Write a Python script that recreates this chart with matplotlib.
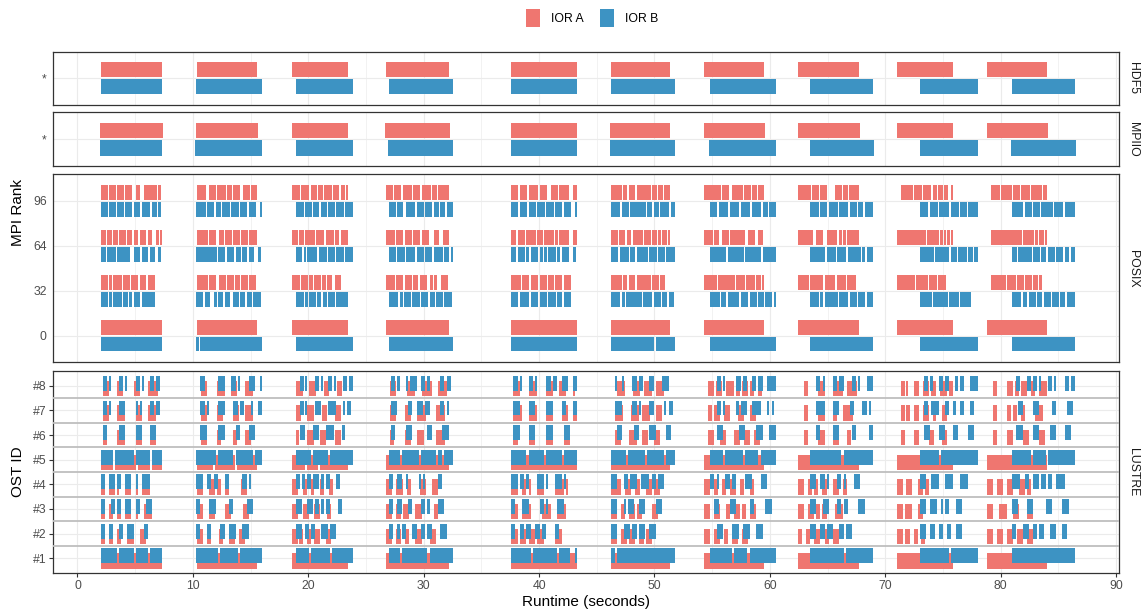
import matplotlib
matplotlib.use("Agg")
import matplotlib.pyplot as plt
from matplotlib.patches import Rectangle

plt.rcParams['font.family'] = ['Liberation Sans', 'DejaVu Sans']

# ---------------- data ----------------
colors = {"IOR A": "#EF7670", "IOR B": "#3D93C3"}
x_ticks = [0, 10, 20, 30, 40, 50, 60, 70, 80, 90]
posix_ranks = [0, 32, 64, 96]
ost_labels = ["#1", "#2", "#3", "#4", "#5", "#6", "#7", "#8"]
facets = ["HDF5", "MPIIO", "POSIX", "LUSTRE"]

# phase start / end times (seconds) for each of the 10 I/O phases
hdf5_a_start = [2.04, 10.36, 18.59, 26.73, 37.56, 46.23, 54.29, 62.44, 71.02, 78.81]
hdf5_a_end = [7.32, 15.55, 23.44, 32.19, 43.28, 51.34, 59.49, 67.73, 75.87, 84.01]
hdf5_b_start = [2.04, 10.27, 18.93, 26.99, 37.56, 46.23, 54.81, 63.47, 73.00, 80.98]
hdf5_b_end = [7.32, 15.99, 23.87, 32.54, 43.28, 51.78, 60.53, 68.93, 78.00, 86.44]

mpiio_a_start = [1.95, 10.27, 18.59, 26.65, 37.56, 46.15, 54.29, 62.44, 71.02, 78.81]
mpiio_a_end = [7.41, 15.64, 23.44, 32.28, 43.28, 51.34, 59.58, 67.81, 75.87, 84.10]
mpiio_b_start = [1.95, 10.18, 18.93, 26.90, 37.56, 46.15, 54.72, 63.47, 73.00, 80.89]
mpiio_b_end = [7.32, 15.99, 23.87, 32.54, 43.28, 51.74, 60.53, 69.02, 78.00, 86.50]

# activity patterns inside each phase ('#' busy, '.' idle)
posix_0_a = [
    "##############################",
    "##############################",
    "##############################",
    "##############################",
    "##############################",
    "##############################",
    "##############################",
    "##############################",
    "##############################",
    "##############################",
]
posix_0_b = [
    "##############################",
    "#.############################",
    "##############################",
    "##############################",
    "##############################",
    "####################.#########",
    "##############################",
    "##############################",
    "##############################",
    "##############################",
]
posix_32_a = [
    "###.#.####.###.###.###.###....",
    "#####.###..###.###.##.###.###.",
    "####.###.##.###.##.##..###....",
    "####.###.###.##.###..#.#..###.",
    "####.###.###.###.##.###.###...",
    "#####.##.###.#######.###.##...",
    "######.########.####.####.##.#",
    "#####.######.#####.####.####..",
    "#########.######.####.####....",
    "..#######.####.###.###.##.#...",
]
posix_32_b = [
    "###.#.####.##.#.###.######....",
    "###.##..#.##.##..##.##.##.###.",
    "####.#.###.##.##.###.######...",
    "####.#.###.###.###.##.###.###.",
    "###.####.###.###.###.##.###...",
    "####.#.#######.####.###.##.##.",
    "####.##.#####.###.###.##.###.#",
    "####.#.######.####.###.###.###",
    "######.#######.#####.#####....",
    "####.##.###.##.###.###.##.####",
]
posix_64_a = [
    "##.##.##.###.##.##.###.##..#.#",
    "#####.###..##.###.###.###.####",
    "###.##.#####.####.####.##.####",
    "####.###.###.###.###...##..###",
    "##.###.####.##.####.#.####..##",
    "###.###.##.#####.###.##.#.##.#",
    "####.##..###.#######..###..##.",
    "#######..###..#####.#.#.######",
    "###############.######.#.#.#.#",
    "..###############.#####.#.##.#",
]
posix_64_b = [
    "##.####.######..###.###.##..#.",
    "#########.###.###.##.##.##..#.",
    "###.#.#####.####.###.####.####",
    "###.###.####.###.###.####.##.#",
    "##.###.#.###.#.#.###.#.###..#.",
    "###.####.##.#####.###.###.####",
    "#######.#######.#######.######",
    "#######.####.####.######.#.###",
    "#######.#######.###.####.##.##",
    "##.######.###.##.###.###.##.##",
]
posix_96_a = [
    "###.###.###.###..##..######.#.",
    "####..###.####.##.###..###.###",
    "####.####.###.##.####.###.##.#",
    "###.###.####.###.####.##.#####",
    "###.###.####.###..###.####..##",
    "#####.##.###.#######.##.##.###",
    "########.###..#####.###.##.###",
    "######.###.###....###.##.#####",
    "..######.####.####.##.##.##..#",
    "..####.#####.###.####.#####.##",
]
posix_96_b = [
    "###.###.###.###.###.####.##.#.",
    "####.###.##.###.###.###.###..#",
    "####.###.###.###.###.####.####",
    "###.##..####.###.###.##.##.###",
    "###.###.###.###.###.###.###..#",
    "####.###.#######.##.##.####.##",
    "###.####.####.####.####.##.###",
    "####.###.####.####.###.##.####",
    "####.####.#####.####.###.#####",
    "#####.###.###.#####.####.#####",
]

lustre_1_a = [
    "##############################",
    "##############################",
    "##############################",
    "##############################",
    "##############################",
    "##############################",
    "##############################",
    "##############################",
    "##############################",
    "##############################",
]
lustre_1_b = [
    "########.#######.######.######",
    "##########.########.##########",
    "#######.##########.###########",
    "#####.############.###########",
    "#########.###########.#####..#",
    "##.###########################",
    "##########.######.############",
    "################.#############",
    "###############.##############",
    "##############################",
]
lustre_2_a = [
    "##..##..##...###...###........",
    "###..##....##...###..###......",
    "###.##..##..###...###.........",
    "###..##..##...###....###......",
    "###.###.###.###.....###.......",
    "###..###.###..###.###.........",
    "###..###..##..###..###........",
    "##..##..###..##..###..........",
    "###.###..##..##...............",
    "###..###..###..###..###.......",
]
lustre_2_b = [
    "##..##...##..###.....##.......",
    "##...##....##..###...###......",
    "###..##.##...####.###.........",
    "##..#.##...##..##.##....###...",
    "##..##.##..##.##....##........",
    "###...###.##.###..###.........",
    "...###....###..###...###......",
    "###..##.###...##.###..........",
    "###..###..##..##...###........",
    "##...###..##.##...###...##....",
]
lustre_3_a = [
    "##..##..##..###..#...####.....",
    "###...###.....###......###....",
    "###...###...###....##.........",
    "###..##.###...###......##.....",
    "###..####.....####...####.....",
    "###..##..###.###.....###......",
    "###..###...##..###.##..###....",
    "###..###.##.##....####........",
    "###.####...###................",
    "###...####...###....###.......",
]
lustre_3_b = [
    "##...##.##..###..##...###.....",
    "##....###......##......###....",
    "###...###.##.##.##....##......",
    "##..##...##....##.#....###....",
    "##...###.....##.#....###......",
    "###...#.###..###.....###......",
    "..##.....###......##.....###..",
    "###...###....##.##.....###....",
    "###..####..#.##....###........",
    "###....###......###.....###...",
]
lustre_4_a = [
    "##..###.#...###..#..####......",
    "###...###.##..##......###.....",
    "###...##..##...##...##........",
    "###..###..##....###...###.....",
    "###..##.#...###.....####.#....",
    "#####..###..###...###.###.....",
    "###..##..##..###..##...##.....",
    "###..##.##..##...###..##......",
    "###..###...###.##.............",
    "###..###..###...###.##........",
]
lustre_4_b = [
    "##..###.##..###..#..####......",
    "###..##.##...##......##.#.....",
    "##.##.##.###.##.##...##.......",
    "##..##..#.....#.#......##.....",
    "###.##.#....###.#...###.#.....",
    "###...##.###..####.##.###.....",
    "##.#...##.##....###....###....",
    "###..##.#....##.#....###......",
    "###...####...####....####.....",
    "####..##..###.##.##..####.....",
]
lustre_5_a = [
    "######.##########.######.#####",
    "########.##########.##########",
    "#######.######.###############",
    "##############################",
    "##############################",
    "##############################",
    "##############################",
    "##############################",
    "##############################",
    "##############################",
]
lustre_5_b = [
    "######.#########.#######.#####",
    "#########.#######.########.###",
    "########.########.############",
    "#####.########.#######.##.####",
    "#######.#######.#######.######",
    "#######.########.########.####",
    "######.########.######.#######",
    "###############.##############",
    "##########.###################",
    "#########.######.#############",
]
lustre_6_a = [
    ".##.....####.....###....###...",
    "..###.....##......##....###...",
    "..##....####...###.....###....",
    "..##.....###...###......####..",
    ".##.....###.....###.....###...",
    "..###....####...###...###.....",
    "..###...###....###..###..###..",
    "...##.....###....###....##....",
    "..##.....###.....###....###...",
    "...##.....###.....###.....###.",
]
lustre_6_b = [
    ".##......###.....###....###...",
    "..###.....###.....##....###...",
    "..###....###....####....##....",
    ".##.....###.......##.....###..",
    ".###....###.....###.....###...",
    "...##......##.....###.....##..",
    "...###.......###.....###...###",
    "...##......###......##......##",
    "..###.....###....###.....###..",
    "..###.....###.....###....###..",
]
lustre_7_a = [
    ".###....####.....###...####...",
    "..###.....###.....###...####..",
    "..###...####....###....###....",
    "..###....###...####.....####..",
    ".####...####....###....###..##",
    "..####....####..####...###....",
    "..##.###..###....###...###....",
    "...##.....###....##...#####...",
    "..##.##..###..###..##...###...",
    "...##.....##.##..##.....####..",
]
lustre_7_b = [
    ".##.#....###.....#.#....##.##.",
    "..##.#....###....##.##...#..##",
    "..##.#....###....####....#.##.",
    ".###.....##..###.##.....##.#..",
    ".###....###.....###....##...##",
    "..###.....##.#....##.....#.##.",
    "...##.#.....#.###..####...#.#.",
    "...####....###.....##....##.#.",
    "..##..####...##..##..##...##..",
    "...##.....###......##.....###.",
]
lustre_8_a = [
    ".###....###.....###....#####..",
    "..###.....####...###....####..",
    "..####...####....###....###...",
    "..###.....####...#####...####.",
    ".###....####....###...###...#.",
    "...####....####..####..####...",
    "..###.###..####.##.###.##..##.",
    "...##.....###....#####..#####.",
    "..##.#...###..###.###..####.##",
    "...##.....###.##.###..##..####",
]
lustre_8_b = [
    ".##.#....##.#....##.#...##.##.",
    "..##......###...##.#....###..#",
    "..##.#....##.#...##.#....##.##",
    ".##.#...#.###..##.#.....##.##.",
    ".##.#...##.#....##.##..###..##",
    "..#..#....##.##...##....###...",
    "...##.#.....##.##..##.##..####",
    "...##.#....##.##....##.#...###",
    "..##.##...##.##...##.##...####",
    "..##...##.##.#...##.#....##.##",
]

posix_a = {0: posix_0_a, 32: posix_32_a, 64: posix_64_a, 96: posix_96_a}
posix_b = {0: posix_0_b, 32: posix_32_b, 64: posix_64_b, 96: posix_96_b}
lustre_a = [lustre_1_a, lustre_2_a, lustre_3_a, lustre_4_a,
            lustre_5_a, lustre_6_a, lustre_7_a, lustre_8_a]
lustre_b = [lustre_1_b, lustre_2_b, lustre_3_b, lustre_4_b,
            lustre_5_b, lustre_6_b, lustre_7_b, lustre_8_b]


def runs(patterns, starts, ends, grow=0.0):
    """Convert per-phase busy patterns into (start, width) intervals.
    `grow` widens each run (in slots) into the following idle slot."""
    out = []
    for pat, t0, t1 in zip(patterns, starts, ends):
        w = (t1 - t0) / len(pat)
        i = 0
        while i < len(pat):
            if pat[i] == "#":
                j = i
                while j < len(pat) and pat[j] == "#":
                    j += 1
                extra = grow * w if j < len(pat) else 0.0
                out.append((t0 + i * w, (j - i) * w + extra))
                i = j
            else:
                i += 1
    return out


# ---------------- figure ----------------
W, H = 1148, 612
fig = plt.figure(figsize=(W / 100, H / 100), dpi=100)


def frect(l, t, r, b):
    return [l / W, 1 - b / H, (r - l) / W, (b - t) / H]


ax_h = fig.add_axes(frect(53, 51.7, 1119, 105))
ax_m = fig.add_axes(frect(53, 112.3, 1119, 166.3))
ax_p = fig.add_axes(frect(53, 174.3, 1119, 362.3))
ax_l = fig.add_axes(frect(53, 371, 1119, 573))
axes = [ax_h, ax_m, ax_p, ax_l]

GRID = "#EBEBEB"
for ax in axes:
    ax.set_xlim(-2.12, 90.25)
    ax.set_xticks(x_ticks)
    ax.set_xticks([5, 15, 25, 35, 45, 55, 65, 75, 85], minor=True)
    ax.grid(which="major", color=GRID, lw=0.8)
    ax.grid(which="minor", axis="x", color=GRID, lw=0.45)
    ax.set_axisbelow(True)
    for s in ax.spines.values():
        s.set_color("#333333")
        s.set_linewidth(0.9)
    ax.tick_params(axis="x", which="both", length=0, labelbottom=False)
    ax.tick_params(axis="y", which="both", length=0, labelsize=8.8,
                   labelcolor="#4D4D4D", pad=4.5)

# HDF5 / MPIIO single-row panels
for ax, a_s, a_e, b_s, b_e in [(ax_h, hdf5_a_start, hdf5_a_end, hdf5_b_start, hdf5_b_end),
                               (ax_m, mpiio_a_start, mpiio_a_end, mpiio_b_start, mpiio_b_end)]:
    ax.set_ylim(0.4, 1.6)
    ax.set_yticks([1])
    ax.set_yticklabels(["*"])
    ax.broken_barh([(s, e - s) for s, e in zip(a_s, a_e)], (1.02, 0.34),
                   facecolors=colors["IOR A"], linewidth=0)
    ax.broken_barh([(s, e - s) for s, e in zip(b_s, b_e)], (0.64, 0.34),
                   facecolors=colors["IOR B"], linewidth=0)

# POSIX panel
ax_p.set_ylim(-19, 115)
ax_p.set_yticks(posix_ranks)
ax_p.set_yticklabels([str(r) for r in posix_ranks])
for r in posix_ranks:
    ax_p.broken_barh(runs(posix_a[r], hdf5_a_start, hdf5_a_end, grow=0.35),
                     (r + 0.7, 10.7), facecolors=colors["IOR A"], linewidth=0)
    ax_p.broken_barh(runs(posix_b[r], hdf5_b_start, hdf5_b_end, grow=0.35),
                     (r - 11.3, 10.6), facecolors=colors["IOR B"], linewidth=0)

# LUSTRE panel
ax_l.set_ylim(0.4, 8.6)
ax_l.set_yticks(range(1, 9))
ax_l.set_yticklabels(ost_labels)
ax_l.grid(which="major", axis="y", color=GRID, lw=0.8)
for k in range(1, 9):
    ax_l.broken_barh(runs(lustre_a[k - 1], hdf5_a_start, hdf5_a_end), (k - 0.42, 0.62),
                     facecolors=colors["IOR A"], linewidth=0)
    ax_l.broken_barh(runs(lustre_b[k - 1], hdf5_b_start, hdf5_b_end), (k - 0.2, 0.6),
                     facecolors=colors["IOR B"], linewidth=0)
for k in range(1, 8):
    ax_l.axhline(k + 0.5, color="#BEBEBE", lw=1.3, zorder=3)
ax_l.tick_params(axis="y", length=2.75, color="#333333", pad=2.2)
ax_l.tick_params(axis="x", which="major", length=2.75, color="#333333",
                 labelbottom=True, labelsize=8.8, labelcolor="#4D4D4D", pad=2.2)
ax_l.set_xlabel("Runtime (seconds)", fontsize=11, labelpad=2)

# facet strips (right side)
for ax, name in zip(axes, facets):
    ax.text(1.0 + 14 / 1066, 0.5, name, transform=ax.transAxes, rotation=270,
            ha="center", va="center", fontsize=8.8, color="#1A1A1A")

# shared y-axis titles
fig.text(18 / W, 1 - 213 / H, "MPI Rank", rotation=90, ha="center", va="center", fontsize=11)
fig.text(18 / W, 1 - 472 / H, "OST ID", rotation=90, ha="center", va="center", fontsize=11)

# legend at the top
for x0, lab in [(526, "IOR A"), (600, "IOR B")]:
    fig.patches.append(Rectangle((x0 / W, 1 - 27 / H), 14 / W, 17.5 / H,
                                 transform=fig.transFigure, facecolor=colors[lab],
                                 edgecolor="none"))
    fig.text((x0 + 25) / W, 1 - 18.5 / H, lab, ha="left", va="center", fontsize=8.8)

fig.savefig("out.png", dpi=100)
